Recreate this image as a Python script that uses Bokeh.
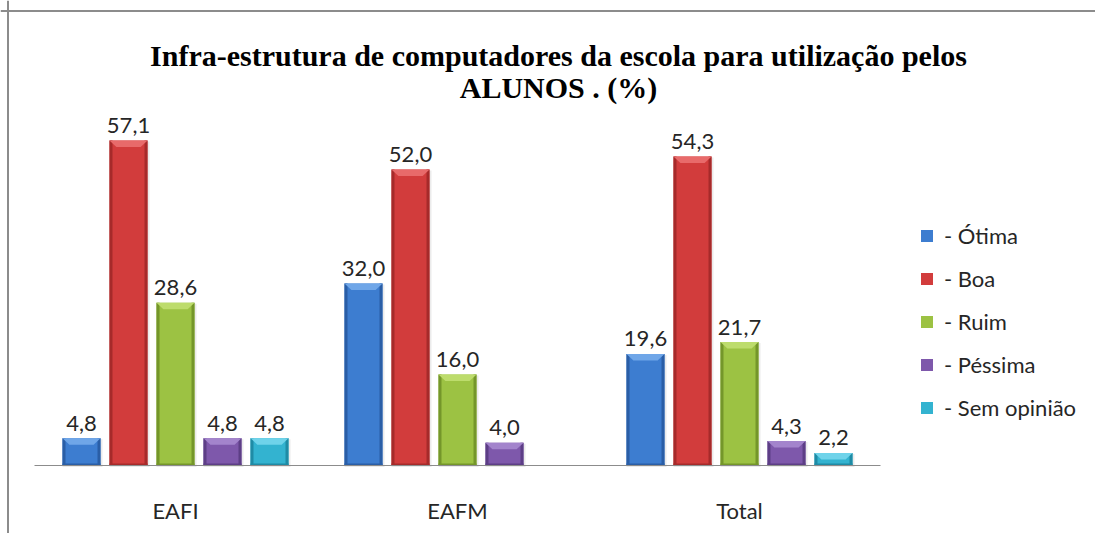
import numpy as np
from bokeh.plotting import figure
from bokeh.models import Range1d, Legend, LegendItem, Span, ColumnDataSource
from bokeh.core.properties import value
from bokeh.embed import file_html
from bokeh.resources import INLINE

# ---- data ----
categories = ["EAFI", "EAFM", "Total"]
series = ["- Ótima", "- Boa", "- Ruim", "- Péssima", "- Sem opinião"]
otima = [4.8, 32.0, 19.6]
boa = [57.1, 52.0, 54.3]
ruim = [28.6, 16.0, 21.7]
pessima = [4.8, 4.0, 4.3]
sem_opiniao = [4.8, float("nan"), 2.2]
title_lines = ["Infra-estrutura de computadores da escola para utilização pelos",
               "ALUNOS . (%)"]

values = [otima, boa, ruim, pessima, sem_opiniao]
main_colors = ["#3d7dd0", "#d23c3c", "#9cc243", "#7e58ab", "#33b3d0"]
dark_colors = ["#2a5ea6", "#a62a2a", "#74962a", "#5d3e86", "#1f8ba5"]
light_colors = ["#6fa6e8", "#e86a6a", "#bddc6c", "#a384cc", "#6fd3ea"]

W, H = 1095, 533
PX_X = 282.0          # pixels per category unit
PX_Y = 5.69           # pixels per percent
base_py = 465.0       # baseline pixel from top
x0 = -175.0 / PX_X
y1 = base_py / PX_Y
y0 = -(H - base_py) / PX_Y


def ydata(py):
    return (base_py - py) / PX_Y


def xdata(px):
    return x0 + px / PX_X


p = figure(width=W, height=H, output_backend="svg", toolbar_location=None,
           x_range=Range1d(x0, x0 + W / PX_X), y_range=Range1d(y0, y1),
           min_border=0, outline_line_color=None, background_fill_color="white",
           border_fill_color="white")
p.xaxis.visible = False
p.yaxis.visible = False
p.xgrid.visible = False
p.ygrid.visible = False

bar_w = 38.0 / PX_X
slot = 47.0 / PX_X
edge = 3.0 / PX_X
band = 6.5 / PX_Y
label_font = value("Lato")

xc = np.arange(len(categories), dtype=float)
renderers = []
for k, (vals, mc, dc, lc) in enumerate(zip(values, main_colors, dark_colors, light_colors)):
    v = np.array(vals, dtype=float)
    ok = ~np.isnan(v)
    xs = xc[ok] + (k - 2) * slot
    vv = v[ok]
    # soft shadow
    p.vbar(x=xs + 1.0 / PX_X, top=vv - 1.0 / PX_Y, bottom=-1.5 / PX_Y, width=bar_w + 2.0 / PX_X,
           fill_color="#000000", fill_alpha=0.08, line_color=None)
    r = p.vbar(x=xs, top=vv, bottom=0, width=bar_w, fill_color=mc, line_color=None)
    renderers.append(r)
    # bevel: dark side edges
    p.vbar(x=xs - bar_w / 2 + edge / 2, top=vv, bottom=0, width=edge, fill_color=dc, line_color=None)
    p.vbar(x=xs + bar_w / 2 - edge / 2, top=vv, bottom=0, width=edge, fill_color=dc, line_color=None)
    p.vbar(x=xs, top=2.0 / PX_Y, bottom=0, width=bar_w, fill_color=dc, line_color=None)
    # bevel: light top band (trapezoid)
    for xi, ti in zip(xs, vv):
        p.patch([xi - bar_w / 2, xi + bar_w / 2, xi + bar_w / 2 - edge * 2.3, xi - bar_w / 2 + edge * 2.3],
                [ti, ti, ti - band, ti - band], fill_color=lc, line_color=None)
    # data labels
    src = ColumnDataSource(dict(x=xs, y=vv, t=[f"{a:.1f}".replace(".", ",") for a in vv]))
    p.text(x="x", y="y", text="t", source=src, text_align="center", text_baseline="alphabetic",
           y_offset=-15, text_font=label_font, text_font_size="22px", text_color="#262626")

# baseline axis line
p.segment(x0=[-0.5], y0=[0], x1=[2.5], y1=[0], line_color="#8c8c8c", line_width=1)

# category labels
p.text(x=xc, y=[ydata(510)] * 3, text=categories, text_align="center", text_baseline="alphabetic",
       text_font=label_font, text_font_size="22px", text_color="#262626")

# title
p.text(x=[xdata(558)], y=[ydata(55)], text=[title_lines[0]], text_align="center",
       text_baseline="alphabetic", text_font=value("Liberation Serif"), text_font_style="bold",
       text_font_size="30px", text_color="#000000")
p.text(x=[xdata(558)], y=[ydata(87)], text=[title_lines[1]], text_align="center",
       text_baseline="alphabetic", text_font=value("Liberation Serif"), text_font_style="bold",
       text_font_size="30px", text_color="#000000")

# chart border (top and left)
p.add_layout(Span(location=ydata(10.5), dimension="width", line_color="#8c8c8c", line_width=2))
p.add_layout(Span(location=xdata(7.5), dimension="height", line_color="#8c8c8c", line_width=2))

legend = Legend(items=[LegendItem(label=s, renderers=[r]) for s, r in zip(series, renderers)],
                location=(919, H - 421), orientation="vertical", padding=0, margin=0,
                spacing=15, glyph_width=15, glyph_height=15, label_height=28,
                label_standoff=10, label_text_font="Lato", label_text_font_size="22px",
                label_text_color="#262626", border_line_color=None, background_fill_alpha=0)
p.add_layout(legend)

open("out.html", "w").write(file_html(p, INLINE))
